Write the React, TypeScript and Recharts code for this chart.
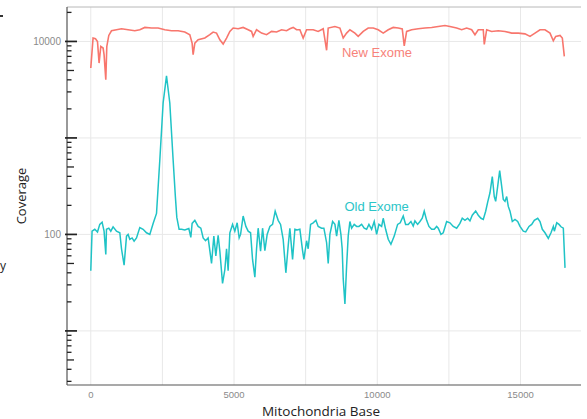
import React from "react";
import { LineChart, Line, XAxis, YAxis, ReferenceLine, ReferenceDot } from "recharts";

// mitochondrial base position / coverage
const oldBase = [
  0, 45, 140, 234, 314, 395, 464, 524, 548, 629, 698, 779, 897, 1013, 1072, 1163, 1247, 1303, 1362, 1442,
  1512, 1596, 1711, 1826, 1945, 2060, 2176, 2294, 2410, 2525, 2643, 2758, 2874, 2951, 3003, 3083, 3167, 3282, 3422, 3492,
  3537, 3632, 3747, 3841, 3922, 4005, 4096, 4215, 4295, 4365, 4445, 4505, 4599, 4679, 4739, 4794, 4854, 4948, 5028, 5109,
  5179, 5228, 5318, 5413, 5493, 5577, 5646, 5727, 5786, 5842, 5926, 5996, 6076, 6156, 6251, 6345, 6436, 6541, 6624, 6715,
  6809, 6890, 6949, 7043, 7124, 7204, 7298, 7392, 7438, 7532, 7588, 7672, 7763, 7857, 7937, 8056, 8136, 8231, 8287, 8346,
  8440, 8521, 8580, 8660, 8730, 8775, 8810, 8870, 8929, 8985, 9044, 9104, 9194, 9278, 9359, 9453, 9544, 9627, 9708, 9802,
  9893, 9977, 10057, 10151, 10207, 10291, 10382, 10476, 10591, 10710, 10801, 10906, 10989, 11080, 11174, 11254, 11314, 11408, 11489, 11569,
  11639, 11723, 11803, 11897, 11988, 12072, 12128, 12222, 12302, 12421, 12536, 12651, 12770, 12885, 12966, 13060, 13154, 13234, 13315, 13434,
  13524, 13619, 13699, 13783, 13853, 13933, 14014, 14083, 14132, 14202, 14272, 14342, 14398, 14457, 14516, 14572, 14632, 14712, 14806, 14900,
  14981, 15096, 15180, 15295, 15389, 15480, 15599, 15679, 15760, 15853, 15969, 16063, 16144, 16179, 16263, 16343, 16412, 16493, 16552,
];
const oldCov = [
  42, 108, 113, 106, 127, 134, 108, 62, 113, 116, 108, 120, 108, 104, 71, 48, 96, 100, 89, 92,
  85, 92, 118, 113, 104, 100, 130, 165, 593, 2300, 4400, 2300, 593, 250, 150, 113, 113, 111, 115, 93,
  130, 140, 121, 116, 92, 86, 92, 50, 96, 60, 98, 67, 31, 43, 71, 42, 104, 127, 108, 132,
  92, 100, 155, 121, 108, 104, 55, 36, 71, 116, 67, 116, 68, 100, 121, 127, 174, 140, 127, 89,
  40, 76, 116, 55, 113, 111, 113, 68, 55, 86, 71, 127, 132, 140, 121, 116, 116, 82, 50, 100,
  136, 127, 96, 140, 100, 71, 35, 19, 47, 96, 136, 116, 127, 121, 121, 127, 116, 113, 127, 113,
  136, 100, 127, 121, 147, 113, 89, 79, 96, 127, 132, 155, 127, 127, 136, 122, 138, 127, 136, 147,
  174, 140, 121, 113, 113, 121, 116, 100, 104, 136, 132, 121, 116, 130, 147, 140, 147, 138, 158, 175,
  158, 147, 143, 174, 216, 270, 398, 247, 220, 315, 459, 315, 230, 220, 247, 195, 174, 136, 143, 136,
  121, 108, 106, 121, 127, 140, 147, 136, 113, 104, 91, 104, 121, 108, 132, 127, 120, 116, 45,
];

const newBase = [
  0, 80, 164, 234, 290, 349, 430, 464, 524, 559, 629, 723, 897, 1072, 1303, 1536, 1711, 1886, 2120, 2350,
  2584, 2818, 3049, 3282, 3457, 3537, 3572, 3632, 3747, 3981, 4155, 4271, 4389, 4505, 4620, 4739, 4854, 4969, 5144, 5318,
  5493, 5612, 5667, 5786, 5961, 6135, 6310, 6485, 6659, 6834, 6949, 7064, 7183, 7298, 7413, 7532, 7763, 7937, 8112, 8231,
  8287, 8521, 8695, 8810, 8929, 9044, 9219, 9334, 9509, 9683, 9858, 10033, 10207, 10382, 10556, 10731, 10871, 10941, 11024, 11199,
  11430, 11663, 11897, 12128, 12362, 12536, 12770, 12945, 13120, 13294, 13409, 13524, 13699, 13734, 13818, 13992, 14223, 14457, 14691, 14921,
  15155, 15330, 15504, 15679, 15853, 16028, 16144, 16228, 16378, 16458, 16528,
];
const newCov = [
  5300, 10850, 10660, 10000, 5970, 8870, 8540, 7290, 4010, 8870, 11540, 12910, 13230, 13550, 13230, 12910, 13230, 13970, 13770, 13770,
  13230, 12910, 12910, 12520, 11740, 9620, 7290, 9620, 10410, 10850, 11740, 12520, 12200, 10410, 9390, 10850, 12700, 13770, 13550, 13970,
  13230, 12700, 11270, 13230, 12200, 11740, 12700, 12520, 13230, 12910, 13550, 13970, 13230, 13230, 10850, 13230, 13230, 12700, 13550, 8100,
  13770, 14300, 13770, 10850, 12200, 13230, 12200, 11270, 12700, 13770, 13770, 13230, 12200, 13230, 13970, 13770, 13500, 9000, 12700, 13230,
  13550, 13770, 13970, 14300, 14650, 14300, 13770, 13230, 13770, 13230, 11740, 13230, 13230, 9300, 13230, 12700, 12910, 12700, 12200, 12200,
  11980, 11270, 12200, 13230, 13230, 12200, 10170, 11270, 11540, 10850, 7000,
];

const xTicks = [0, 5000, 10000, 15000];
const xGrid = [0, 2500, 5000, 7500, 10000, 12500, 15000];
const yGrid = [10, 100, 1000, 10000];
const yTicks = [
  3, 4, 5, 6, 7, 8, 9, 10, 20, 30, 40, 50, 60, 70, 80, 90, 100, 200, 300, 400, 500, 600, 700, 800, 900,
  1000, 2000, 3000, 4000, 5000, 6000, 7000, 8000, 9000, 10000, 20000,
];
const yLabelled = [100, 10000];

const oldData = oldBase.map((base, i) => ({ base, cov: oldCov[i] }));
const newData = newBase.map((base, i) => ({ base, cov: newCov[i] }));

const FONT = "'Liberation Sans', Arial, sans-serif";

function LogTick(props: any) {
  const { x, y, payload } = props;
  const v = payload.value;
  const major = yGrid.includes(v);
  const mid = String(v)[0] === "5";
  const len = major ? 10 : mid ? 7 : 4.5;
  return (
    <g>
      <line x1={major ? x - 2 : x} x2={x + len} y1={y} y2={y} stroke="#222" strokeWidth={major ? 1.7 : 1.3} />
      {yLabelled.includes(v) && (
        <text x={x - 6} y={y} dy="0.35em" textAnchor="end" fontSize={10} fill="#8a8a8a" fontFamily={FONT}>
          {v}
        </text>
      )}
    </g>
  );
}

export default function App() {
  return (
    <div style={{ position: "absolute", left: 0, top: 0, width: 587, height: 419, background: "#fff" }}>
      <div style={{ position: "absolute", left: 0, top: 15, width: 3, height: 2, background: "#333" }} />
      <div style={{ position: "absolute", left: 0, top: 257, fontFamily: "'Open Sans', sans-serif", fontSize: 12, color: "#222" }}>y</div>
      <LineChart width={587} height={419} margin={{ top: 7, right: 6, bottom: 0, left: 0 }} style={{ fontFamily: FONT }}>
        <XAxis
          dataKey="base"
          type="number"
          domain={[-830, 17110]}
          ticks={xTicks}
          allowDataOverflow
          height={34}
          tickLine={false}
          tickSize={0}
          tickMargin={6}
          axisLine={{ stroke: "#555", strokeWidth: 1.2 }}
          tick={{ fontSize: 9.5, fill: "#8a8a8a", fontFamily: FONT }}
          label={{ value: "Mitochondria Base", position: "insideBottom", offset: 3, dx: -3, fill: "#222", fontSize: 13.5, fontFamily: "'Open Sans', sans-serif" }}
        />
        <YAxis
          dataKey="cov"
          type="number"
          scale="log"
          domain={[2.75, 22750]}
          allowDataOverflow
          ticks={yTicks}
          interval={0}
          width={67}
          tickLine={false}
          tickSize={0}
          tickMargin={0}
          axisLine={{ stroke: "#555", strokeWidth: 1.2 }}
          tick={<LogTick />}
          label={{ value: "Coverage", angle: -90, position: "insideLeft", offset: 21, style: { textAnchor: "middle" }, fill: "#222", fontSize: 13, fontFamily: "'Open Sans', sans-serif" }}
        />
        {xGrid.map((g) => (
          <ReferenceLine key={"vx" + g} x={g} stroke="#e8e8e8" strokeWidth={1} />
        ))}
        {yGrid.map((g) => (
          <ReferenceLine key={"hy" + g} y={g} stroke="#e8e8e8" strokeWidth={1} />
        ))}
        <ReferenceLine y={22750} stroke="#b8b8b8" strokeWidth={1} />
        <Line data={newData} dataKey="cov" type="linear" stroke="#f8766d" strokeWidth={1.6} dot={false} isAnimationActive={false} />
        <Line data={oldData} dataKey="cov" type="linear" stroke="#1fc3c6" strokeWidth={1.5} dot={false} isAnimationActive={false} />
        <ReferenceDot x={9987} y={7640} r={0} label={{ value: "New Exome", position: "center", fill: "#f7827a", fontSize: 13, fontFamily: FONT }} />
        <ReferenceDot x={9977} y={194} r={0} label={{ value: "Old Exome", position: "center", fill: "#2cc5c8", fontSize: 13, fontFamily: FONT }} />
      </LineChart>
    </div>
  );
}
